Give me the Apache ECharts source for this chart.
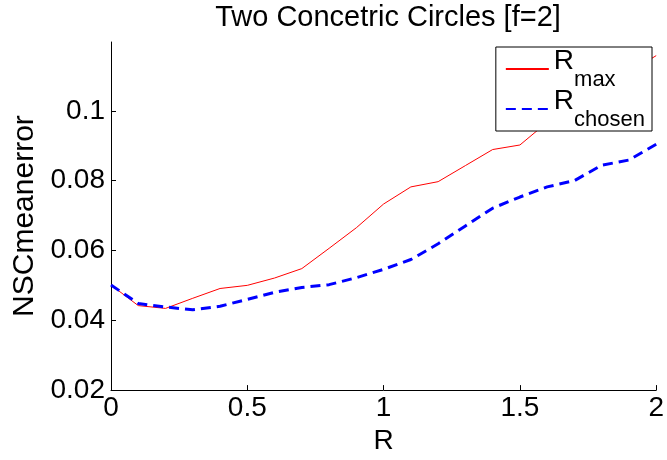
<!DOCTYPE html>
<html>
<head>
<meta charset="utf-8">
<script src="https://cdn.jsdelivr.net/npm/echarts@6/dist/echarts.min.js"></script>
<style>
  html, body { margin: 0; padding: 0; background: #fff; }
  #chart { width: 667px; height: 460px; }
</style>
</head>
<body>
<div id="chart"></div>
<script>
// R 取值 0 ~ 2，步长 0.1
const rValues = [0, 0.1, 0.2, 0.3, 0.4, 0.5, 0.6, 0.7, 0.8, 0.9, 1.0,
                 1.1, 1.2, 1.3, 1.4, 1.5, 1.6, 1.7, 1.8, 1.9, 2.0]
const rMax = [0.0501, 0.0442, 0.0434, 0.0463, 0.0491, 0.0500, 0.0521, 0.0548, 0.0606, 0.0665, 0.0733,
              0.0782, 0.0797, 0.0843, 0.0889, 0.0902, 0.0967, 0.1015, 0.1065, 0.1110, 0.1158]
const rChosen = [0.0501, 0.0448, 0.0438, 0.0430, 0.0440, 0.0460, 0.0480, 0.0494, 0.0502, 0.0522, 0.0546,
                 0.0574, 0.0619, 0.0670, 0.0721, 0.0753, 0.0782, 0.0800, 0.0844, 0.0859, 0.0904]
const xTicks = [0, 0.5, 1, 1.5, 2]
const yTicks = [0.02, 0.04, 0.06, 0.08, 0.1]

const font = 'Liberation Sans, Arial, sans-serif'

const chart = echarts.init(document.getElementById('chart'))

function pairs(ys) {
    return rValues.map((x, i) => [x, ys[i]])
}

chart.setOption({
    animation: false,
    title: {
        text: 'Two Concetric Circles [f=2]',
        left: 388,
        top: 3,
        padding: 0,
        textAlign: 'center',
        textStyle: { fontFamily: font, fontSize: 29, fontWeight: 'normal', color: '#000' }
    },
    grid: { left: 111, right: 8, top: 42, bottom: 53 },
    legend: {
        orient: 'vertical',
        right: 15,
        top: 47,
        padding: [0, 7, 0, 9],
        itemGap: -4,
        itemWidth: 43,
        itemHeight: 2,
        backgroundColor: '#fff',
        borderColor: '#000',
        borderWidth: 1,
        borderRadius: 0,
        itemStyle: { opacity: 0 },
        data: ['max', 'chosen'],
        formatter: name => '{r|R}{s|' + name + '}',
        textStyle: {
            fontFamily: font,
            color: '#000',
            rich: {
                r: { fontFamily: font, fontSize: 28, lineHeight: 44, verticalAlign: 'top' },
                s: { fontFamily: font, fontSize: 22, lineHeight: 18, verticalAlign: 'bottom' }
            }
        }
    },
    xAxis: {
        type: 'value',
        min: 0,
        max: 2,
        interval: 0.5,
        name: 'R',
        nameLocation: 'middle',
        nameGap: 28,
        nameTextStyle: { fontFamily: font, fontSize: 28, color: '#000' },
        axisLine: { lineStyle: { color: '#000', width: 1 } },
        axisTick: { inside: true, length: 5, lineStyle: { color: '#000' }, customValues: xTicks },
        axisLabel: {
            fontFamily: font, fontSize: 28, color: '#000', margin: 4,
            customValues: xTicks,
            formatter: v => String(v)
        },
        splitLine: { show: false }
    },
    yAxis: {
        type: 'value',
        min: 0.02,
        max: 0.1197,
        interval: 0.02,
        name: 'NSCmeanerror',
        nameLocation: 'middle',
        nameGap: 67,
        nameTextStyle: { fontFamily: font, fontSize: 30, color: '#000' },
        axisLine: { show: true, lineStyle: { color: '#000', width: 1 } },
        axisTick: { show: true, inside: true, length: 5, lineStyle: { color: '#000' }, customValues: yTicks },
        axisLabel: {
            fontFamily: font, fontSize: 28, color: '#000', margin: 6,
            customValues: yTicks,
            formatter: v => String(Math.round(v * 100) / 100)
        },
        splitLine: { show: false }
    },
    series: [
        {
            name: 'max',
            type: 'line',
            data: pairs(rMax),
            symbol: 'none',
            color: '#ff0000',
            lineStyle: { color: '#ff0000', width: 1 }
        },
        {
            name: 'chosen',
            type: 'line',
            data: pairs(rChosen),
            symbol: 'none',
            color: '#0000ff',
            lineStyle: { color: '#0000ff', width: 3, type: [10, 6] }
        }
    ]
})
</script>
</body>
</html>
